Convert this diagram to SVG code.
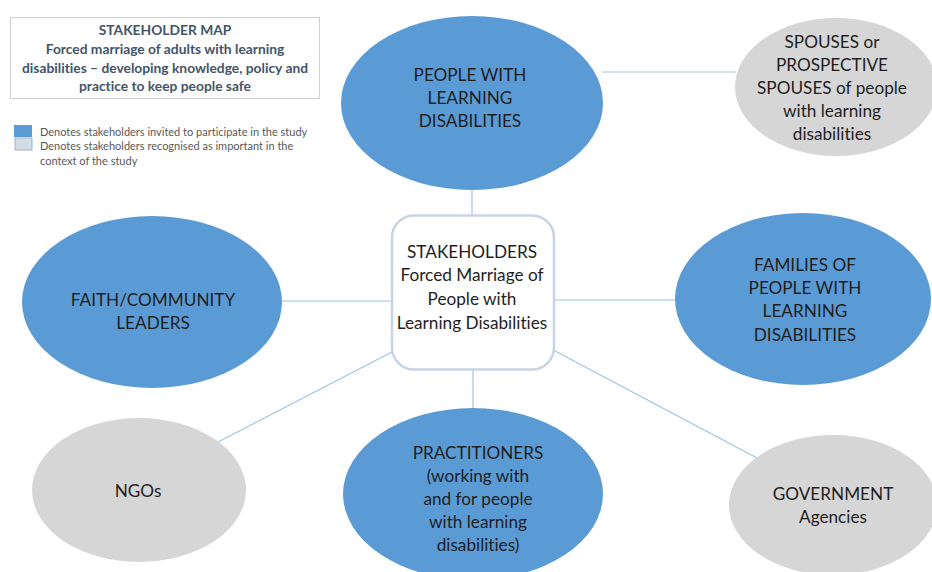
<svg xmlns="http://www.w3.org/2000/svg" width="932" height="572" viewBox="0 0 932 572">
<style>
text{font-variant-ligatures:none}
.blue{fill:#5B9BD5;stroke:none}
.grey{fill:#D6D6D6;stroke:none}
.lbl{font-family:Lato,"Liberation Sans",Arial,sans-serif;font-size:17.2px;fill:#1E1E1E;text-anchor:middle}
.ttl{font-family:Lato,"Liberation Sans",Arial,sans-serif;font-size:13.8px;font-weight:bold;fill:#44546A;text-anchor:middle}
.leg{font-family:Lato,"Liberation Sans",Arial,sans-serif;font-size:11px;fill:#595959}
.conn line{stroke:#9DC3E6;stroke-width:1.2}
</style>
<rect width="932" height="572" fill="#FFFFFF"/>
<g id="title">
<rect x="10.5" y="17.5" width="309" height="81" fill="#FFFFFF" stroke="#D0D0D0" stroke-width="1"/>
<text class="ttl" x="165" y="35">STAKEHOLDER MAP</text>
<text class="ttl" x="165" y="54">Forced marriage of adults with learning</text>
<text class="ttl" x="165" y="73">disabilities – developing knowledge, policy and</text>
<text class="ttl" x="165" y="91">practice to keep people safe</text>
</g>
<g id="legend">
<rect x="14" y="125" width="18" height="12" fill="#5B9BD5"/>
<rect x="15" y="138" width="17" height="12" fill="#D6DCE5" stroke="#9DB3D0" stroke-width="1"/>
<text class="leg" x="40" y="135.5">Denotes stakeholders invited to participate in the study</text>
<text class="leg" x="40" y="150">Denotes stakeholders recognised as important in the</text>
<text class="leg" x="40" y="164.5">context of the study</text>
</g>
<g class="conn" id="connectors">
<line x1="472" y1="189" x2="472" y2="216"/>
<line x1="602" y1="72" x2="736" y2="72"/>
<line x1="282" y1="301" x2="392" y2="301"/>
<line x1="555" y1="300" x2="676" y2="300"/>
<line x1="218" y1="442" x2="392" y2="352"/>
<line x1="473" y1="370" x2="473" y2="409"/>
<line x1="555" y1="351" x2="757" y2="458"/>
</g>
<g id="center">
<rect x="392" y="215.5" width="162" height="154" rx="22" ry="22" fill="#FFFFFF" stroke="#C8D4E4" stroke-width="2.5"/>
<text class="lbl" x="472" y="258">STAKEHOLDERS</text>
<text class="lbl" x="472" y="281">Forced Marriage of</text>
<text class="lbl" x="472" y="305">People with</text>
<text class="lbl" x="472" y="329">Learning Disabilities</text>
</g>
<g id="people">
<ellipse class="blue" cx="472" cy="103" rx="131" ry="87"/>
<text class="lbl" x="470" y="81">PEOPLE WITH</text>
<text class="lbl" x="470" y="104">LEARNING</text>
<text class="lbl" x="470" y="127">DISABILITIES</text>
</g>
<g id="spouses">
<ellipse class="grey" cx="836" cy="87" rx="101" ry="69"/>
<text class="lbl" x="832" y="48">SPOUSES or</text>
<text class="lbl" x="832" y="71">PROSPECTIVE</text>
<text class="lbl" x="832" y="94">SPOUSES of people</text>
<text class="lbl" x="832" y="117">with learning</text>
<text class="lbl" x="832" y="140">disabilities</text>
</g>
<g id="faith">
<ellipse class="blue" cx="152" cy="302" rx="130" ry="86"/>
<text class="lbl" x="153" y="306">FAITH/COMMUNITY</text>
<text class="lbl" x="153" y="329">LEADERS</text>
</g>
<g id="families">
<ellipse class="blue" cx="803" cy="299" rx="128" ry="86"/>
<text class="lbl" x="805" y="271">FAMILIES OF</text>
<text class="lbl" x="805" y="294">PEOPLE WITH</text>
<text class="lbl" x="805" y="317">LEARNING</text>
<text class="lbl" x="805" y="341">DISABILITIES</text>
</g>
<g id="ngos">
<ellipse class="grey" cx="139" cy="490" rx="107" ry="72"/>
<text class="lbl" x="138" y="497">NGOs</text>
</g>
<g id="practitioners">
<ellipse class="blue" cx="473" cy="494" rx="130" ry="86"/>
<text class="lbl" x="478" y="459">PRACTITIONERS</text>
<text class="lbl" x="478" y="482">(working with</text>
<text class="lbl" x="478" y="505">and for people</text>
<text class="lbl" x="478" y="528">with learning</text>
<text class="lbl" x="478" y="551">disabilities)</text>
</g>
<g id="government">
<ellipse class="grey" cx="833" cy="505" rx="104" ry="70"/>
<text class="lbl" x="833" y="500">GOVERNMENT</text>
<text class="lbl" x="833" y="523">Agencies</text>
</g>
</svg>
